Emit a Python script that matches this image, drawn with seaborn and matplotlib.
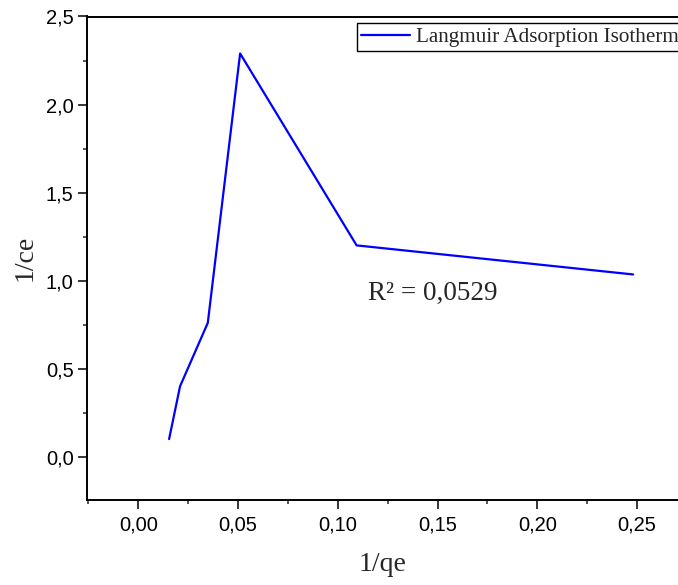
import matplotlib
matplotlib.use("Agg")
import matplotlib.pyplot as plt
import seaborn as sns
import pandas as pd
from matplotlib.ticker import MultipleLocator, FuncFormatter

# Data
inv_qe = [0.0154, 0.0209, 0.0348, 0.0510, 0.1094, 0.2480]
inv_ce = [0.10, 0.40, 0.76, 2.29, 1.20, 1.035]
series_name = "Langmuir Adsorption Isotherm"
r2_text = "R² = 0,0529"

df = pd.DataFrame({"1/qe": inv_qe, "1/ce": inv_ce, "series": series_name})

sns.set_theme(style="ticks")
plt.rcParams['font.family'] = ['Liberation Sans', 'DejaVu Sans']

fig = plt.figure(figsize=(6.78, 5.85), dpi=100)
ax = fig.add_axes([87.5/678, 1-500/585, 1-87.5/678, (500-16.5)/585])

sns.lineplot(data=df, x="1/qe", y="1/ce", hue="series", palette=["#0000FF"],
             sort=False, estimator=None, linewidth=1.6, ax=ax)

ax.set_xlim(-0.0255, 0.2705)
ax.set_ylim(-0.246, 2.5)

ax.xaxis.set_major_locator(MultipleLocator(0.05))
ax.xaxis.set_minor_locator(MultipleLocator(0.025))
ax.yaxis.set_major_locator(MultipleLocator(0.5))
ax.yaxis.set_minor_locator(MultipleLocator(0.25))
ax.xaxis.set_major_formatter(FuncFormatter(lambda v, p: f"{v:.2f}".replace('.', ',')))
ax.yaxis.set_major_formatter(FuncFormatter(lambda v, p: f"{v:.1f}".replace('.', ',')))

ax.tick_params(which='major', direction='out', length=6.5, width=1.1, labelsize=14.5, colors='black')
ax.tick_params(which='minor', direction='out', length=3, width=1.1)
ax.tick_params(axis='x', which='major', pad=5)
ax.tick_params(axis='x', which='both', top=False)
ax.tick_params(axis='y', which='both', right=False)
for s in ['left', 'bottom', 'top']:
    ax.spines[s].set_linewidth(1.4)
    ax.spines[s].set_color('black')
ax.spines['right'].set_visible(False)

serif = ['Liberation Serif', 'DejaVu Serif']
ax.set_xlabel("1/qe", fontsize=20, family=serif, labelpad=12)
ax.set_ylabel("1/ce", fontsize=20, family=serif, labelpad=6)

ax.text(0.1151, 0.93, r2_text, fontsize=19.5, family=serif, ha='left', va='center')

leg = ax.legend(loc='upper left', bbox_to_anchor=(0.4564, 0.9866), borderaxespad=0,
                frameon=True, fancybox=False, edgecolor='black', framealpha=1,
                prop={'family': serif, 'size': 15.2}, handlelength=2.3, borderpad=0.2,
                handletextpad=0.3, title=None)
leg.get_frame().set_linewidth(1.0)

fig.savefig("out.png", dpi=100)
